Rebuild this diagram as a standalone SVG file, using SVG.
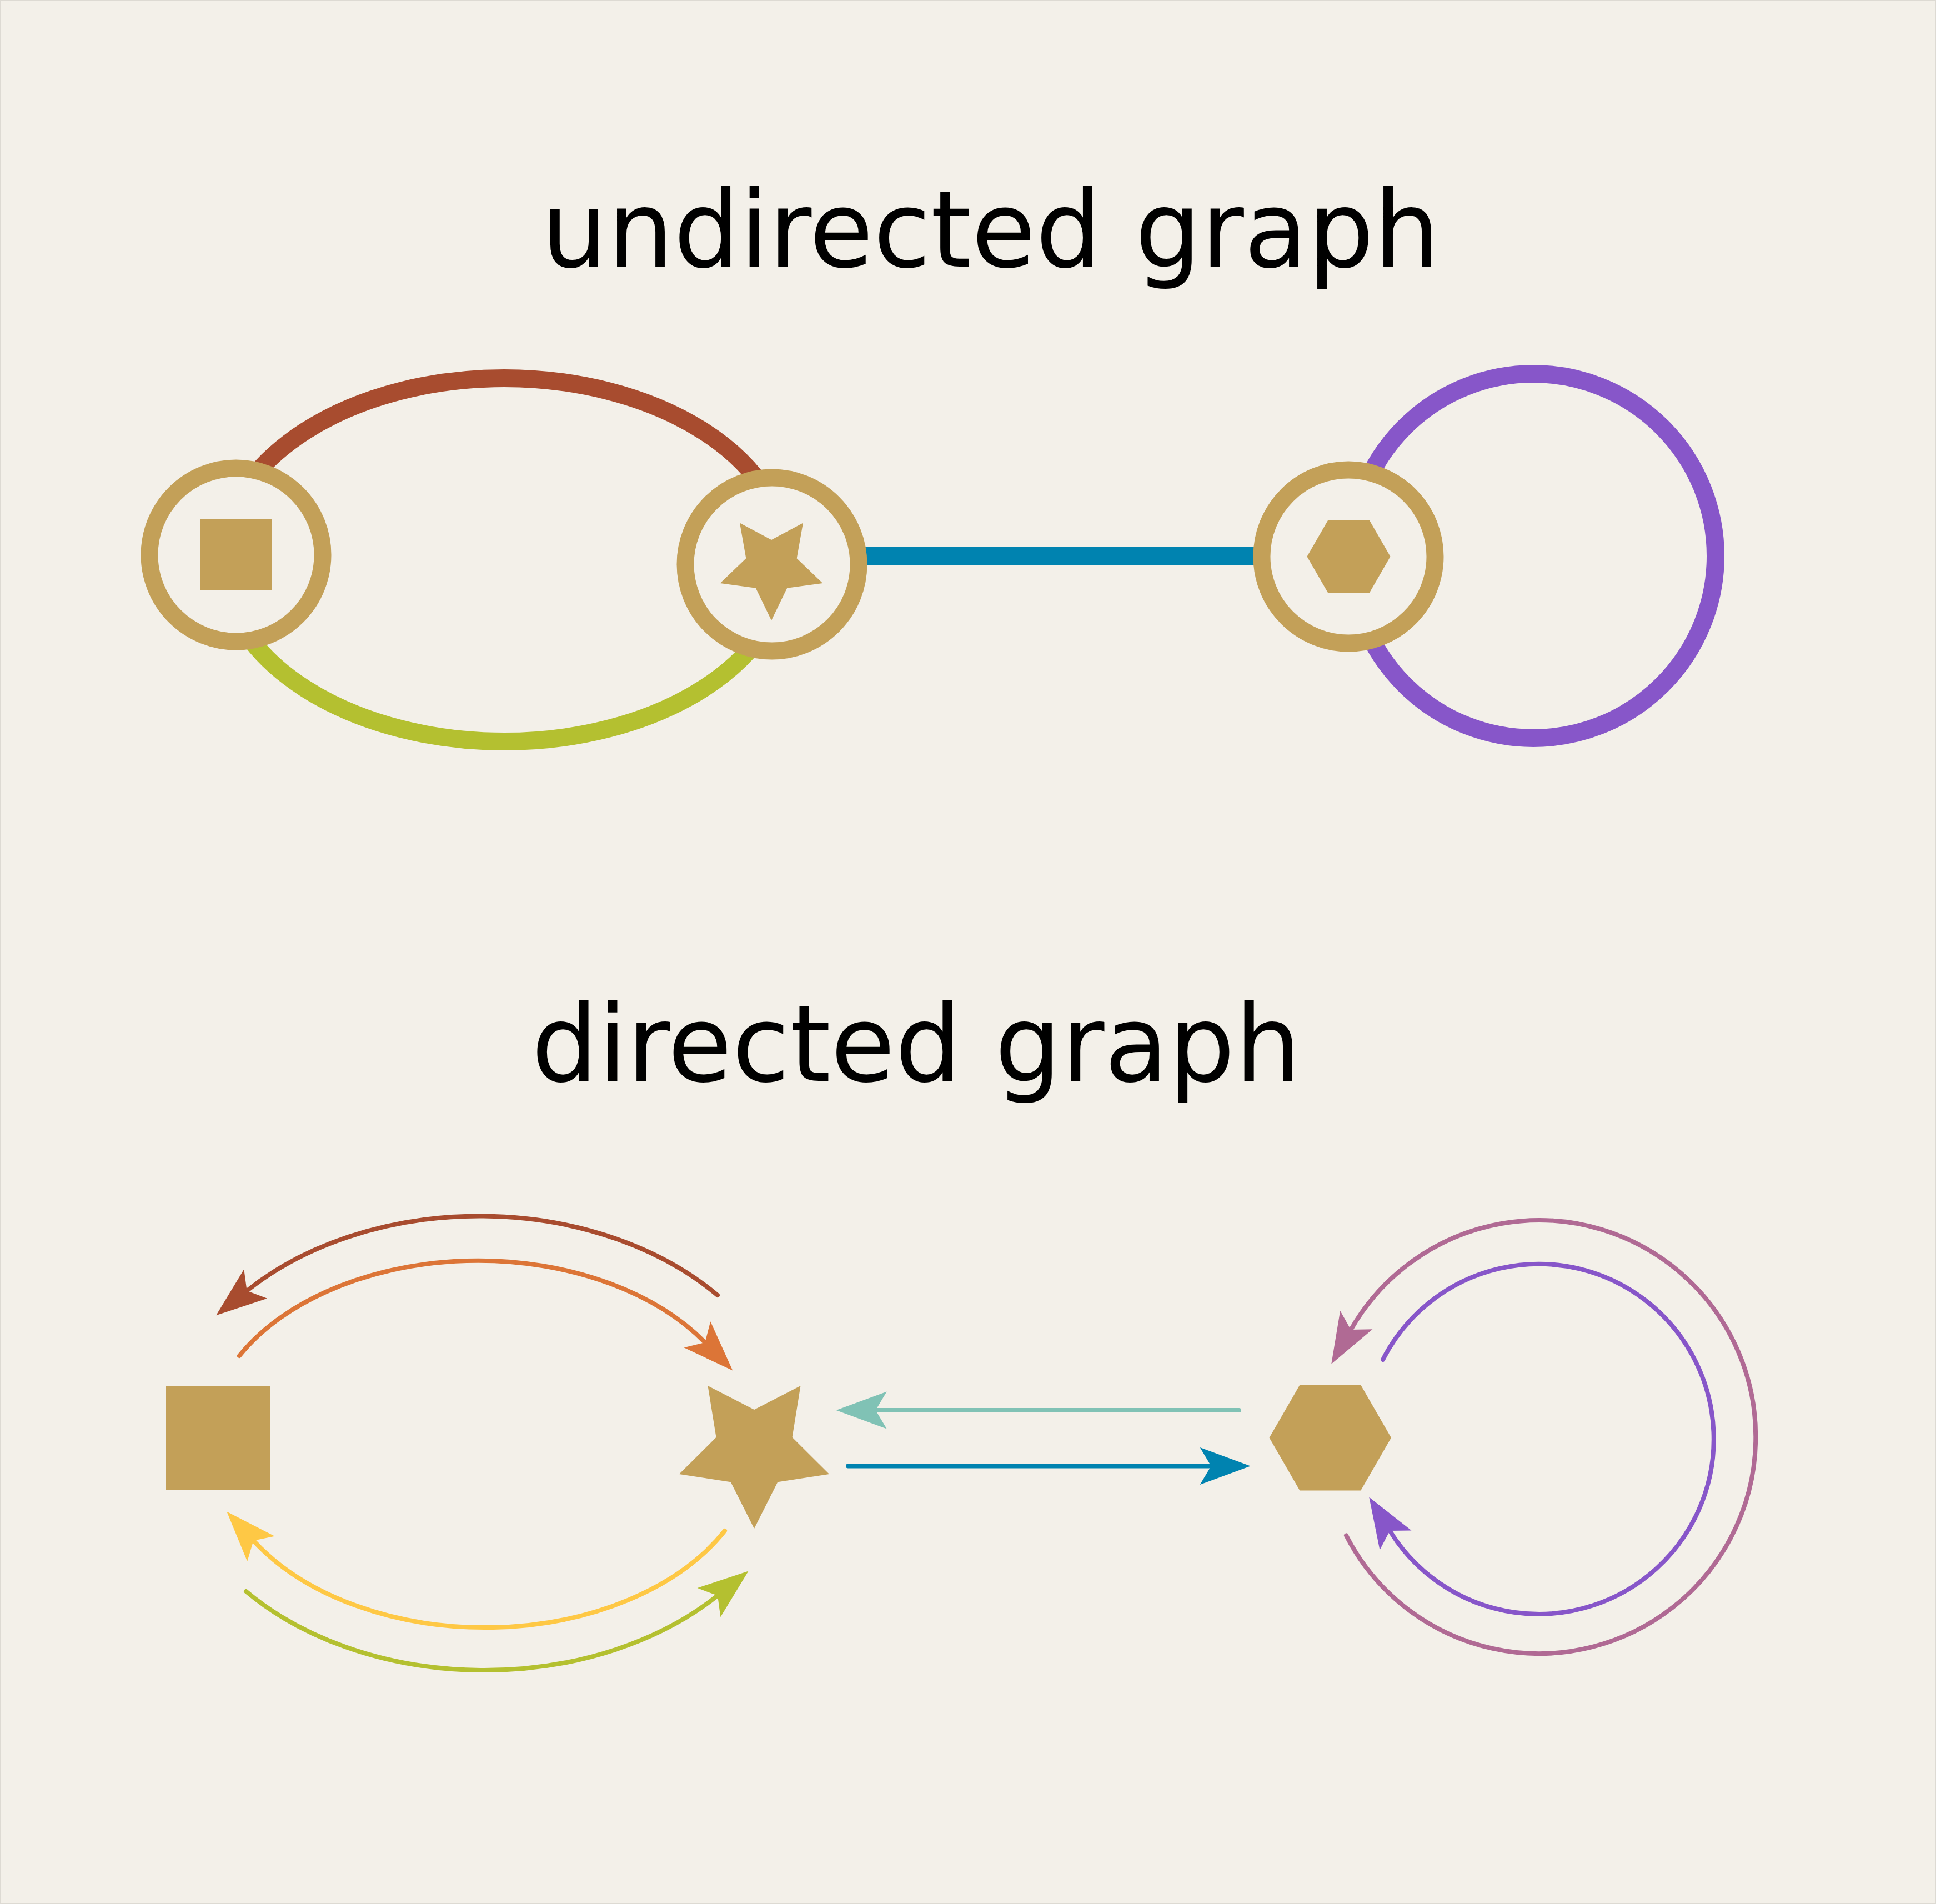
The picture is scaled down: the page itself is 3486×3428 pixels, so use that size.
<svg xmlns="http://www.w3.org/2000/svg" width="3486" height="3428" viewBox="0 0 3486 3428">
<style>
.title{font-family:"DejaVu Sans","Liberation Sans",sans-serif;font-size:190px;fill:#000}
.ring{fill:#f3f0e9;stroke:#c3a058;stroke-width:31}
.shape{fill:#c3a058}
.uedge{fill:none;stroke-width:32}
.dedge{fill:none;stroke-width:8;stroke-linecap:round}
</style>
<defs>
<marker id="ah-red" markerUnits="userSpaceOnUse" orient="auto" refX="0" refY="0" markerWidth="200" markerHeight="200" viewBox="-100 -100 200 200" overflow="visible"><path d="M71,0 L-20,-33.5 L0,0 L-20,33.5 Z" fill="#a84c2f"/></marker>
<marker id="ah-orange" markerUnits="userSpaceOnUse" orient="auto" refX="0" refY="0" markerWidth="200" markerHeight="200" viewBox="-100 -100 200 200" overflow="visible"><path d="M71,0 L-20,-33.5 L0,0 L-20,33.5 Z" fill="#dc7537"/></marker>
<marker id="ah-yellow" markerUnits="userSpaceOnUse" orient="auto" refX="0" refY="0" markerWidth="200" markerHeight="200" viewBox="-100 -100 200 200" overflow="visible"><path d="M71,0 L-20,-33.5 L0,0 L-20,33.5 Z" fill="#fec845"/></marker>
<marker id="ah-green" markerUnits="userSpaceOnUse" orient="auto" refX="0" refY="0" markerWidth="200" markerHeight="200" viewBox="-100 -100 200 200" overflow="visible"><path d="M71,0 L-20,-33.5 L0,0 L-20,33.5 Z" fill="#b4c030"/></marker>
<marker id="ah-teal" markerUnits="userSpaceOnUse" orient="auto" refX="0" refY="0" markerWidth="200" markerHeight="200" viewBox="-100 -100 200 200" overflow="visible"><path d="M71,0 L-20,-33.5 L0,0 L-20,33.5 Z" fill="#80c2b5"/></marker>
<marker id="ah-blue" markerUnits="userSpaceOnUse" orient="auto" refX="0" refY="0" markerWidth="200" markerHeight="200" viewBox="-100 -100 200 200" overflow="visible"><path d="M71,0 L-20,-33.5 L0,0 L-20,33.5 Z" fill="#0083b0"/></marker>
<marker id="ah-purple" markerUnits="userSpaceOnUse" orient="auto" refX="0" refY="0" markerWidth="200" markerHeight="200" viewBox="-100 -100 200 200" overflow="visible"><path d="M71,0 L-20,-33.5 L0,0 L-20,33.5 Z" fill="#8756c9"/></marker>
<marker id="ah-mauve" markerUnits="userSpaceOnUse" orient="auto" refX="0" refY="0" markerWidth="200" markerHeight="200" viewBox="-100 -100 200 200" overflow="visible"><path d="M71,0 L-20,-33.5 L0,0 L-20,33.5 Z" fill="#b06a94"/></marker>
</defs>
<rect x="1" y="1" width="3484" height="3426" fill="#f3f0e9" stroke="#dddad3" stroke-width="2"/>

<text class="title" x="975" y="480" textLength="1618" lengthAdjust="spacingAndGlyphs">undirected graph</text>
<text class="title" x="957" y="1946" textLength="1386" lengthAdjust="spacingAndGlyphs">directed graph</text>

<g id="undirected-edges">
<path class="uedge" stroke="#a84c2f" d="M 400 1008 A 508 327 0 0 1 1416 1008"/>
<path class="uedge" stroke="#b4c030" d="M 400 1008 A 508 327 0 0 0 1416 1008"/>
<line class="uedge" stroke="#0083b0" x1="1390" y1="1001" x2="2428" y2="1001"/>
<circle class="uedge" stroke="#8756c9" cx="2761" cy="1001" r="328"/>
</g>

<g id="u-square">
<circle class="ring" cx="425" cy="999" r="156"/>
<rect class="shape" x="361" y="935" width="129" height="128"/>
</g>
<g id="u-star">
<circle class="ring" cx="1390" cy="1016" r="156"/>
<polygon class="shape" points="1389,1117 1417.2,1058.8 1481.3,1050 1434.7,1005.2 1446,941.5 1389,972 1332,941.5 1343.3,1005.2 1296.7,1050 1360.8,1058.8"/>
</g>
<g id="u-hexagon">
<circle class="ring" cx="2428" cy="1002" r="156"/>
<polygon class="shape" points="2503.5,1002 2466,1067 2391,1067 2353.5,1002 2391,937 2466,937"/>
</g>

<g id="directed-edges">
<path class="dedge" stroke="#a84c2f" marker-end="url(#ah-red)" d="M 1292 2332 A 565 409 0 0 0 444.6 2324"/>
<path class="dedge" stroke="#dc7537" marker-end="url(#ah-orange)" d="M 431 2441 A 489 327 0 0 1 1269.4 2417"/>
<path class="dedge" stroke="#fec845" marker-end="url(#ah-yellow)" d="M 1305 2756 A 490 330 0 0 1 456.4 2773.7"/>
<path class="dedge" stroke="#b4c030" marker-end="url(#ah-green)" d="M 443 2865 A 566 408 0 0 0 1292.1 2872.7"/>
<path class="dedge" stroke="#80c2b5" marker-end="url(#ah-teal)" d="M 2231 2539 L 1576.7 2539"/>
<path class="dedge" stroke="#0083b0" marker-end="url(#ah-blue)" d="M 1527 2639.5 L 2180.7 2639.5"/>
<path class="dedge" stroke="#8756c9" marker-end="url(#ah-purple)" d="M 2490 2448 A 315 315 0 1 1 2502.5 2756"/>
<path class="dedge" stroke="#b06a94" marker-end="url(#ah-mauve)" d="M 2424 2764.5 A 390 390 0 1 0 2432.4 2394"/>
</g>

<g id="d-square">
<rect class="shape" x="299" y="2495" width="187" height="187"/>
</g>
<g id="d-star">
<polygon class="shape" points="1358,2752 1400.3,2668.2 1493.1,2653.9 1426.5,2587.8 1441.5,2495.1 1358,2538 1274.5,2495.1 1289.5,2587.8 1222.9,2653.9 1315.7,2668.2"/>
</g>
<g id="d-hexagon">
<polygon class="shape" points="2505,2588.5 2450.2,2683.5 2340.4,2683.5 2285.6,2588.5 2340.4,2493.5 2450.2,2493.5"/>
</g>
</svg>
